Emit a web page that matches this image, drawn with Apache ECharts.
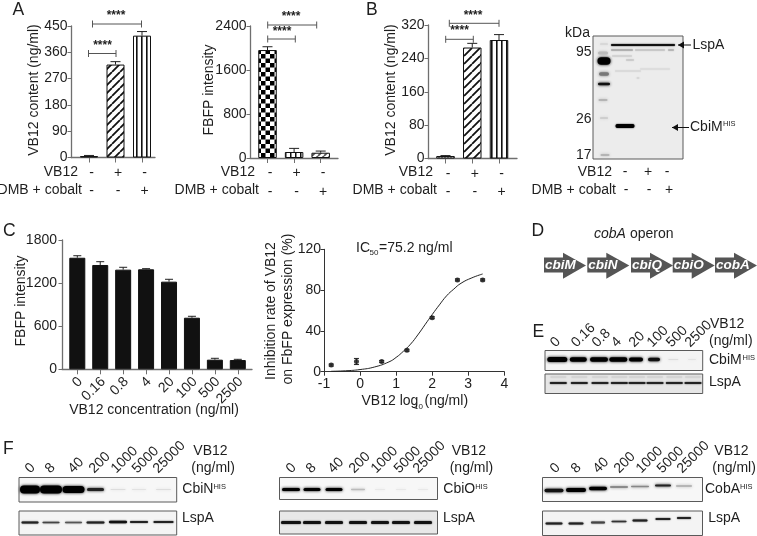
<!DOCTYPE html>
<html><head><meta charset="utf-8">
<script src="https://cdn.jsdelivr.net/npm/echarts@6/dist/echarts.min.js"></script>
<style>html,body{margin:0;padding:0;background:#fff}#c{width:757px;height:536px}</style>
</head><body><div id="c"></div>
<script>
// ---------- data ----------
const contentAValues=[5,318,417];
const contentAErrors=[2,10,14];
const fbfpAValues=[1963,109,96];
const fbfpAErrors=[60,66,30];
const contentBValues=[6,266,284];
const contentBErrors=[1,10,13];
const concLabels=['0','0.16','0.8','4','20','100','500','2500'];
const fbfpCValues=[1553,1452,1387,1392,1220,718,134,129];
const fbfpCErrors=[28,46,33,9,33,20,19,10];
const inhibX=[-0.8,-0.1,0.6,1.3,2,2.7,3.4];
const inhibY=[6.5,10,10,21,53,90,90];
const inhibErr=[1,3,1,1,1,1,1];
const fitX=[-0.8,-0.4,0,0.4,0.8,1.0,1.2,1.4,1.6,1.8,2,2.2,2.4,2.6,2.8,3.1,3.4];
const fitY=[0.4,0.9,2.1,4.6,9.6,14,20,27,36,46,56,65.5,74.4,81,86.7,92,95.8];
const treatmentLabels=['-\n-','+\n-','-\n+'];
const operonGenes=['cbiM','cbiN','cbiQ','cbiO','cobA'];
const doseE=['0','0.16','0.8','4','20','100','500','2500'];
const doseF=['0','8','40','200','1000','5000','25000'];

// ---------- fill patterns ----------
function tile(w,h,draw){const c=document.createElement('canvas');c.width=w;c.height=h;const x=c.getContext('2d');x.fillStyle='#fff';x.fillRect(0,0,w,h);draw(x);return {image:c,repeat:'repeat'};}
function hatch(step,lw,col){return tile(step,step,x=>{x.strokeStyle=col;x.lineWidth=lw;x.beginPath();
 for(let i=-1;i<=1;i++){x.moveTo(i*step,step);x.lineTo(i*step+step,0);} x.stroke();});}
const patDiag=hatch(8,1.8,'#111');
const patGrey=hatch(6,1.7,'#555');
const patStripe=tile(5,5,x=>{x.fillStyle='#111';x.fillRect(1,0,1.6,5);});
const patCheck=tile(9,9,x=>{x.fillStyle='#000';x.fillRect(0,0,4.5,4.5);x.fillRect(4.5,4.5,4.5,4.5);});
const patBox=tile(5,5,x=>{x.fillStyle='#111';x.fillRect(0,0,1.5,5);});
const patDots=tile(3,3,x=>{x.fillStyle='#999';x.fillRect(0,0,2,2);});

const FONT='"Liberation Sans",Arial,sans-serif';
const INK='#1e1e1e', AX='#6f6f6f';
const grids=[],xAxes=[],yAxes=[],series=[];

function errSeries(i,xs,ys,errs,capHalf,both){
 return {type:'custom',xAxisIndex:i,yAxisIndex:i,z:3,silent:true,
  data:xs.map((x,k)=>[x,ys[k],errs[k]]),
  renderItem(p,api){const x=api.value(0),y=api.value(1),e=api.value(2);
   const top=api.coord([x,y+e]),low=api.coord([x,both?y-e:y]);
   const ls={stroke:'#222',lineWidth:1};
   return {type:'group',children:[
    {type:'line',shape:{x1:top[0],y1:top[1],x2:low[0],y2:low[1]},style:ls},
    {type:'line',shape:{x1:top[0]-capHalf,y1:top[1],x2:top[0]+capHalf,y2:top[1]},style:ls},
    ...(both?[{type:'line',shape:{x1:low[0]-capHalf,y1:low[1],x2:low[0]+capHalf,y2:low[1]},style:ls}]:[])]};
  }};
}
function barPanel(o){
 const i=grids.length, xs=o.values.map((_,k)=>k+1);
 grids.push({left:o.left,width:o.right-o.left,top:o.top,height:o.bottom-o.top});
 const s=o.spacing;
 xAxes.push({type:'value',gridIndex:i,min:1-(o.c1-o.left)/s,max:o.values.length+(o.right-(o.c1+s*(o.values.length-1)))/s,
  splitLine:{show:false},axisLine:{onZero:false,lineStyle:{color:AX,width:1.3}},
  axisTick:{customValues:xs,length:5,lineStyle:{color:AX,width:1}},
  axisLabel:o.labels?{customValues:xs,formatter:v=>o.labels[v-1],color:INK,fontFamily:FONT,fontSize:14,lineHeight:18.5,margin:6,padding:[0,0,0,5],hideOverlap:false}:{show:false}});
 yAxes.push({type:'value',gridIndex:i,min:0,max:o.yMax,interval:o.yStep,splitLine:{show:false},
  axisLine:{show:true,onZero:false,lineStyle:{color:AX,width:1.3}},axisTick:{show:true,length:3.5,lineStyle:{color:AX,width:1}},
  axisLabel:{color:INK,fontFamily:FONT,fontSize:14,margin:o.yMargin||3.5,formatter:v=>String(v)}});
 series.push({type:'bar',xAxisIndex:i,yAxisIndex:i,z:2,silent:true,barWidth:o.barW,
  data:o.values.map((v,k)=>({value:[k+1,v],itemStyle:{color:o.fills[k],borderColor:'#111',borderWidth:1}}))});
 series.push(errSeries(i,xs,o.values,o.errors,o.cap||5));
}
barPanel({left:71,right:155,top:26,bottom:157.5,c1:89,spacing:26.5,barW:18,yMax:450,yStep:90,values:contentAValues,errors:contentAErrors,labels:treatmentLabels,fills:[patDots,patDiag,patStripe]});
barPanel({left:250,right:338,top:26,bottom:158,c1:267.5,spacing:26.6,barW:18.5,yMax:2400,yStep:800,values:fbfpAValues,errors:fbfpAErrors,labels:treatmentLabels,fills:[patCheck,patBox,patGrey]});
barPanel({left:428,right:517,top:25,bottom:158.5,c1:445.5,spacing:26.75,barW:18.5,yMax:320,yStep:80,values:contentBValues,errors:contentBErrors,labels:treatmentLabels,fills:[patDots,patDiag,patStripe]});
barPanel({left:62,right:252,top:240,bottom:369.3,c1:77.3,spacing:22.93,barW:16,yMax:1800,yStep:600,values:fbfpCValues,errors:fbfpCErrors,fills:concLabels.map(()=>'#111'),cap:4,yMargin:5});

// dose-response
{const i=grids.length;
 grids.push({left:324,width:180.3,top:249.3,height:122.4});
 xAxes.push({type:'value',gridIndex:i,min:-1,max:4,interval:1,splitLine:{show:false},axisLine:{onZero:false,lineStyle:{color:'#333',width:1}},axisTick:{length:4,lineStyle:{color:'#333'}},
  axisLabel:{color:INK,fontFamily:FONT,fontSize:14,margin:5,showMinLabel:true,showMaxLabel:true}});
 yAxes.push({type:'value',gridIndex:i,min:0,max:120,interval:40,splitLine:{show:false},axisLine:{show:true,onZero:false,lineStyle:{color:'#333',width:1}},axisTick:{show:true,length:3.5,lineStyle:{color:'#333'}},
  axisLabel:{color:INK,fontFamily:FONT,fontSize:14,margin:3}});
 series.push({type:'line',xAxisIndex:i,yAxisIndex:i,smooth:true,showSymbol:false,silent:true,lineStyle:{color:'#222',width:1},data:fitX.map((x,k)=>[x,fitY[k]])});
 series.push(errSeries(i,inhibX,inhibY,inhibErr,2.5,true));
 series.push({type:'scatter',xAxisIndex:i,yAxisIndex:i,symbolSize:5,silent:true,itemStyle:{color:'#111'},data:inhibX.map((x,k)=>[x,inhibY[k]])});
}

// ---------- annotation / illustration helpers ----------
const G=[];
function T(text,x,y,o={}){G.push({type:'text',x,y,rotation:o.rot?o.rot*Math.PI/180:0,z:10,silent:true,
 style:{text,x:0,y:0,fill:o.fill||INK,font:(o.style||'')+' '+(o.size||14)+'px '+FONT,textAlign:o.align||'left',textVerticalAlign:o.va||'middle'}});}
function VT(text,x,y){T(text,x,y,{rot:90,align:'center'});}
function bracket(x1,x2,y,tick,labelX,labelY){const s={stroke:'#555',lineWidth:1};
 G.push({type:'line',z:10,silent:true,shape:{x1,y1:y,x2,y2:y},style:s});
 G.push({type:'line',z:10,silent:true,shape:{x1,y1:y-tick,x2:x1,y2:y+tick},style:s});
 G.push({type:'line',z:10,silent:true,shape:{x1:x2,y1:y-tick,x2,y2:y+tick},style:s});
 T('****',labelX,labelY,{align:'center',size:12,style:'bold'});}
function frame(x,y,w,h,fill){G.push({type:'rect',z:5,silent:true,shape:{x,y,width:w,height:h},style:{fill:fill||'#f3f3f3',stroke:'#5a5a5a',lineWidth:1}});}
function band(cx,w,y,h,col,blur){G.push({type:'rect',z:6,silent:true,shape:{x:cx-w/2,y:y-h/2,width:w,height:h,r:h/2},style:{fill:col,shadowBlur:blur==null?3:blur,shadowColor:col}});}
const meas=document.createElement('canvas').getContext('2d');meas.font='14px '+FONT;

// brackets
bracket(92.5,141.5,24,3.5,116,16);
bracket(88.5,116,53.5,3.5,102.5,45.5);
bracket(267.7,316.7,25,3.5,291,17);
bracket(267.7,295.3,39,3.5,282,32);
bracket(449.3,499,23.3,3.5,473,15.5);
bracket(445.7,473.3,39.3,3.5,459.5,31);

// axis titles
VT('VB12 content (ng/ml)',34,90);
VT('FBFP intensity',209,90);
VT('VB12 content (ng/ml)',391,90);
VT('FBFP intensity',21,301);
VT('Inhibition rate of VB12',271.5,311);
VT('on FbFP expression (%)',288.5,309);
T('VB12 concentration (ng/ml)',154,410,{align:'center'});
T('VB12 log',361.5,401);
T('10',414,406.5,{size:8});
T('(ng/ml)',424.5,401);
T('IC',356,248);
T('50',369.5,253,{size:8});
T('=75.2 ng/ml',379,248);
// rotated dose labels under panel C bars
concLabels.forEach((c,k)=>T(c,77.3+22.93*k+3,379.5,{rot:45,align:'right'}));
// treatment row labels
for(const [vx,dx] of [[78,82],[255,259],[433,437],[612,616]]){
 T('VB12',vx,172,{align:'right'});T('DMB + cobalt',dx,190.5,{align:'right'});}
[[625,'-'],[648,'+'],[667,'-']].forEach(p=>T(p[1],p[0],172,{align:'center'}));
[[626,'-'],[649,'-'],[669,'+']].forEach(p=>T(p[1],p[0],190,{align:'center'}));
// panel letters
[['A',12.5,10],['B',366,10],['C',3,231],['D',531.5,231],['E',532.5,332.5],['F',3,449]].forEach(p=>T(p[0],p[1],p[2],{size:17.5}));

// Panel B blot
frame(593,36,90,123,'#ececec');
T('kDa',590,33,{align:'right'});T('95',591.5,52,{align:'right'});T('26',591.5,119,{align:'right'});T('17',591.5,155,{align:'right'});
[[604,8,44,1,'#ccc'],[603,10,53,3,'#bbb'],[604,13,61,7.5,'#000'],[604,10,74,3.5,'#777'],[604,12,84,2.5,'#111'],[603,9,100,1.5,'#aaa'],[604,8,118,1,'#bbb'],[605,9,155,1.5,'#aaa']].forEach(b=>band(b[0],b[1],b[2],b[3],b[4]));
band(643,64,45,2,'#111',1.5);
band(625,19,126,4,'#000',1.5);
[[622,22,50,'#aaa'],[622,20,56,'#d0d0d0'],[650,30,50,'#c4c4c4'],[628,26,71,'#d8d8d8'],[655,30,69,'#dcdcdc'],[671,6,50,'#b0b0b0'],[630,8,60,'#c8c8c8'],[638,3,78,'#d4d4d4']].forEach(b=>band(b[0],b[1],b[2],1.5,b[3],1.5));
T('LspA',692.5,45);T('CbiM',690,127);T('HIS',723,124,{size:7.5});
function arrow(x1,x2,y){G.push({type:'line',z:10,silent:true,shape:{x1,y1:y,x2,y2:y},style:{stroke:'#111',lineWidth:1}});
 G.push({type:'polygon',z:10,silent:true,shape:{points:[[x1,y],[x1+6,y-3.5],[x1+6,y+3.5]]},style:{fill:'#111'}});}
arrow(678,691,45);arrow(672,689,127.5);

// Panel D operon
T('cobA',594,234,{style:'italic'});T('operon',630,234);
operonGenes.forEach((g,k)=>{const s=[544,587.3,631,672.7,715][k],yt=257.5,yb=272.5,ht=252.7,hb=278.7,c='#555';
 G.push({type:'polygon',z:6,silent:true,shape:{points:[[s,yt],[s+19,yt],[s+19,ht],[s+42,265.5],[s+19,hb],[s+19,yb],[s,yb]]},style:{fill:c}});
 T(g,s+1,265.5,{fill:'#fff',style:'italic bold',size:13.5});});

// Panel E
const eX=[557.3,578.3,599,618.3,636,654,673.3,692];
frame(545,350.5,157.7,20,'#f4f4f4');frame(545,374,157.7,19.5,'#e6e6e6');
[[20,5,'#000'],[17,4.5,'#000'],[18,4.5,'#000'],[18,4.5,'#000'],[14,4,'#000'],[12,3.5,'#111'],[10,1,'#ddd'],[8,1,'#e4e4e4']].forEach((b,k)=>band(eX[k],b[0],359.5,b[1],b[2]));
eX.forEach(x=>{band(x+1,17,383,2.2,'#222',1.5);band(x+1,16,377,2,'#d4d4d4',2);});
doseE.forEach((d,k)=>T(d,eX[k]-4.5,345,{rot:45}));
T('VB12',710,324.5);T('(ng/ml)',709,341);
T('CbiM',709,360);T('HIS',742.5,357.5,{size:7.5});T('LspA',709,382);

// Panel F
function fPanel(x0,xs,top1,h1,top2,h2,w,bands1,bands2,nameA,lab,pfill){
 frame(x0,top1,w,h1,'#f7f7f7');frame(x0,top2,w,h2,pfill||'#f4f4f4');
 xs.forEach((x,k)=>{const b=bands1[k];band(x,b[0],top1+b[2],b[1],b[3]);const c=bands2[k];band(x,c[0],top2+c[2],c[1],c[3],1.5);});
 lab.starts.forEach((sx,k)=>T(doseF[k],sx+1.5,471,{rot:45}));
 T('VB12',lab.vb,450.7);T('(ng/ml)',lab.vb-2,468.3);
 T(nameA,lab.name,489.5);
 T('HIS',lab.name+meas.measureText(nameA).width,486.7,{size:7.5});
 T('LspA',lab.lsp,518.5);
}
fPanel(19,[30,51,73.5,95.5,118,139,163.5],477.5,24.5,511,24,157.7,
 [[20,8,12,'#000'],[22,8,12,'#000'],[22,7,12,'#000'],[17,3,12,'#222'],[15,1,12,'#ddd'],[14,1,12,'#e2e2e2'],[15,1,12,'#ddd']],
 [[17,1.8,11.5,'#222'],[17,1.6,11.5,'#444'],[17,1.6,11.5,'#555'],[18,2,11.5,'#222'],[18,2.6,11,'#111'],[18,2,11,'#222'],[20,2,11,'#222']],'CbiN',{starts:[26,46,69,90,112,133,154],vb:193.3,name:182.3,lsp:182});
fPanel(279.5,[291,312,334,358,380,401,423],477.5,22,511,23,158,
 [[18,3,12,'#000'],[17,3,12,'#000'],[17,3,12,'#000'],[14,1.3,12,'#bbb'],[10,1,12,'#e8e8e8'],[10,1,12,'#e8e8e8'],[10,1,12,'#e8e8e8']],
 [[20,3,11.5,'#111'],[18,3,11.5,'#111'],[18,3,11.5,'#111'],[18,3,11.5,'#111'],[18,3,11.5,'#111'],[18,3,11.5,'#111'],[18,3,11.5,'#111']],'CbiO',{starts:[287,307,329,350,372,395,414],vb:451.7,name:443.3,lsp:443},'#e8e8e8');
fPanel(542.5,[554,576,598,619,640,663,684],477.5,24,511,24.5,160,
 [[19,3.5,13,'#111'],[20,4,12.5,'#000'],[18,3.5,11,'#000'],[18,1.3,9.5,'#777'],[18,1.3,9,'#888'],[16,2,8,'#222'],[16,1.3,8.5,'#aaa']],
 [[17,2.2,12.5,'#222'],[15,2.2,12.5,'#222'],[14,1.8,11.5,'#444'],[15,1.6,10.5,'#333'],[15,1.8,9.5,'#222'],[15,1.8,8,'#222'],[14,1.8,7,'#222']],'CobA',{starts:[551,572,594,615,637,658,678],vb:714.3,name:705,lsp:708.3});

echarts.init(document.getElementById('c'),null,{renderer:'canvas'}).setOption({
 animation:false,backgroundColor:'#fff',grid:grids,xAxis:xAxes,yAxis:yAxes,series,graphic:{elements:G}
});
</script></body></html>
